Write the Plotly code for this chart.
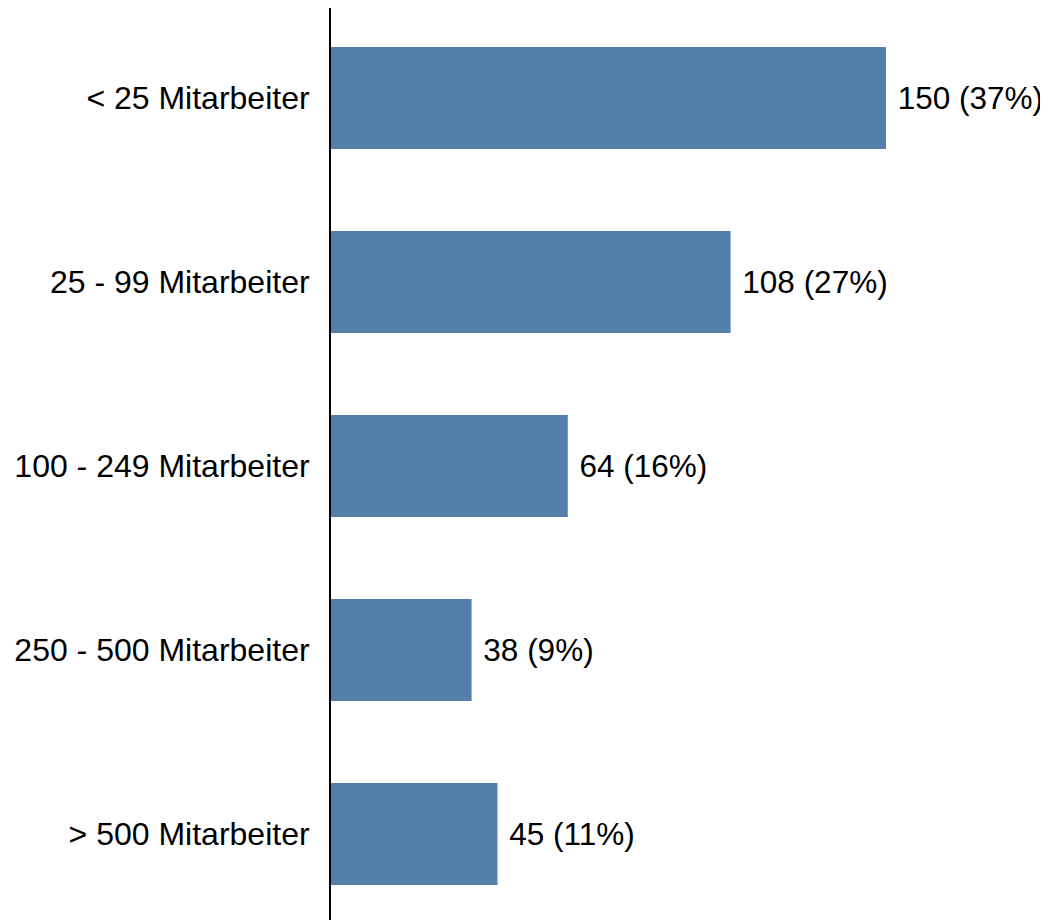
import plotly.graph_objects as go

categories = ["< 25 Mitarbeiter", "25 - 99 Mitarbeiter", "100 - 249 Mitarbeiter",
              "250 - 500 Mitarbeiter", "> 500 Mitarbeiter"]
counts = [150, 108, 64, 38, 45]
percents = [37, 27, 16, 9, 11]

labels = ["\u00a0%d (%d%%)" % (c, p) for c, p in zip(counts, percents)]

fig = go.Figure(go.Bar(
    y=categories, x=counts, orientation="h",
    marker=dict(color="#557FAB", line=dict(width=0)),
    width=0.554,
    text=labels, textposition="outside", constraintext="none",
    textfont=dict(family="Liberation Sans, Arial", size=31.5, color="#000000"),
    cliponaxis=False,
))

fig.update_layout(
    width=1048, height=920,
    margin=dict(l=323, r=8, t=0, b=0),
    paper_bgcolor="white", plot_bgcolor="white",
    showlegend=False,
    font=dict(family="Liberation Sans, Arial", size=32, color="#000000"),
    xaxis=dict(range=[0, 193.8], showgrid=False, zeroline=False,
               showticklabels=False, showline=False, ticks=""),
    yaxis=dict(type="category", categoryorder="array", categoryarray=categories,
               range=[4.511, -0.489], showgrid=False, zeroline=False,
               showline=True, linecolor="#000000", linewidth=2, ticks="",
               ticklabelstandoff=13,
               tickfont=dict(family="Liberation Sans, Arial", size=32, color="#000000")),
)

fig.write_html("out.html")
